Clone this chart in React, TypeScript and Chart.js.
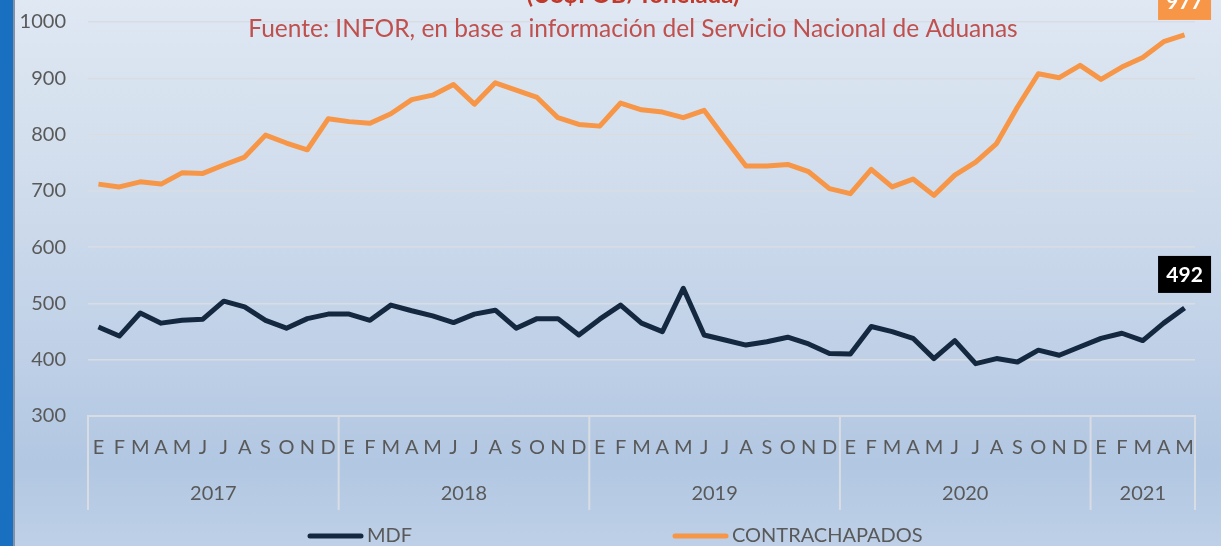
import { useEffect, useRef } from "react";
import { Chart, registerables } from "chart.js";
Chart.register(...registerables);

const MONTH_LETTERS = ["E", "F", "M", "A", "M", "J", "J", "A", "S", "O", "N", "D"];
const YEARS = ["2017", "2018", "2019", "2020", "2021"];
const MONTHS_PER_YEAR = [12, 12, 12, 12, 5];
const CATEGORIES: string[] = [];
MONTHS_PER_YEAR.forEach((n) => {
  for (let i = 0; i < n; i++) CATEGORIES.push(MONTH_LETTERS[i]);
});

const MDF = [
  458, 442, 483, 465, 470, 472, 504, 494, 470, 456, 473, 481,
  481, 470, 497, 487, 478, 466, 481, 488, 456, 473, 473, 444,
  472, 497, 465, 450, 527, 444, 435, 426, 432, 440, 428, 411,
  410, 459, 450, 438, 402, 434, 393, 402, 396, 417, 408, 423,
  438, 447, 434, 465, 492,
];
const CONTRACHAPADOS = [
  712, 707, 716, 712, 732, 731, 746, 760, 799, 785, 773, 828,
  823, 820, 837, 862, 870, 889, 854, 892, 879, 866, 830, 818,
  815, 856, 844, 840, 830, 843, 793, 744, 744, 747, 734, 704,
  695, 738, 707, 721, 692, 728, 751, 784, 849, 908, 901, 923,
  898, 920, 937, 965, 977,
];
const Y_MIN = 300;
const Y_MAX = 1000;
const Y_STEP = 100;

const TITLE = "(US$FOB/Tonelada)";
const SUBTITLE = "Fuente: INFOR, en base a información del Servicio Nacional de Aduanas";

const FONT = "Lato, 'Open Sans', sans-serif";
const LABEL_BG = ["#000000", "#f79646"];

const decorPlugin = {
  id: "decor",
  afterDatasetsDraw(chart: any) {
    const ctx = chart.ctx;
    ctx.save();
    chart.data.datasets.forEach((ds: any, i: number) => {
      const meta = chart.getDatasetMeta(i);
      const last = meta.data.length - 1;
      const pt = meta.data[last];
      const v = ds.data[last];
      const w = 53, h = 37;
      const cx = pt.x;
      const cy = pt.y - 33.5;
      ctx.fillStyle = LABEL_BG[i];
      ctx.fillRect(cx - w / 2, cy - h / 2, w, h);
      ctx.fillStyle = "#ffffff";
      ctx.font = `bold 21px ${FONT}`;
      ctx.textAlign = "center";
      ctx.textBaseline = "middle";
      ctx.fillText(String(v), cx, cy + 1);
    });
    ctx.restore();
  },
  afterDraw(chart: any) {
    const ctx = chart.ctx;
    const xs = chart.scales.x;
    const area = chart.chartArea;
    ctx.save();
    const step = xs.getPixelForValue(1) - xs.getPixelForValue(0);
    ctx.strokeStyle = "#d9dde3";
    ctx.lineWidth = 2;
    let idx = 0;
    const bounds: number[] = [xs.getPixelForValue(0) - step / 2];
    MONTHS_PER_YEAR.forEach((n) => {
      idx += n;
      bounds.push(xs.getPixelForValue(idx - 1) + step / 2);
    });
    bounds.forEach((bx) => {
      ctx.beginPath();
      ctx.moveTo(bx, area.bottom);
      ctx.lineTo(bx, area.bottom + 94);
      ctx.stroke();
    });
    ctx.fillStyle = "#595959";
    ctx.font = `20px ${FONT}`;
    ctx.textAlign = "center";
    ctx.textBaseline = "middle";
    YEARS.forEach((y, i) => {
      ctx.fillText(y, (bounds[i] + bounds[i + 1]) / 2, area.bottom + 78);
    });
    const cxT = 633;
    ctx.fillStyle = "#c0392b";
    ctx.font = `bold 24px ${FONT}`;
    ctx.textBaseline = "alphabetic";
    ctx.fillText(TITLE, cxT, 3);
    ctx.fillStyle = "#c0504d";
    ctx.font = `24.5px ${FONT}`;
    ctx.fillText(SUBTITLE, cxT, 37);
    const legendX = [308, 673];
    const ly = 536;
    chart.data.datasets.forEach((ds: any, i: number) => {
      const lx = legendX[i];
      ctx.strokeStyle = ds.borderColor;
      ctx.lineWidth = 5;
      ctx.lineCap = "round";
      ctx.beginPath();
      ctx.moveTo(lx + 2, ly);
      ctx.lineTo(lx + 53, ly);
      ctx.stroke();
      ctx.fillStyle = "#595959";
      ctx.font = `20px ${FONT}`;
      ctx.textAlign = "left";
      ctx.textBaseline = "middle";
      ctx.fillText(ds.label, lx + 59, ly);
    });
    ctx.restore();
  },
};

export default function App() {
  const ref = useRef<HTMLCanvasElement | null>(null);
  useEffect(() => {
    if (!ref.current) return;
    const chart = new Chart(ref.current, {
      type: "line",
      data: {
        labels: CATEGORIES,
        datasets: [
          {
            label: "MDF",
            data: MDF,
            borderColor: "#142840",
            borderWidth: 5,
            pointRadius: 0,
            tension: 0,
            borderJoinStyle: "round",
          },
          {
            label: "CONTRACHAPADOS",
            data: CONTRACHAPADOS,
            borderColor: "#f79646",
            borderWidth: 5,
            pointRadius: 0,
            tension: 0,
            borderJoinStyle: "round",
          },
        ],
      },
      options: {
        animation: false,
        responsive: false,
        devicePixelRatio: 1,
        layout: { padding: { left: 0, top: 22, right: 26, bottom: 0 } },
        plugins: { legend: { display: false }, title: { display: false }, tooltip: { enabled: false } },
        scales: {
          x: {
            type: "category",
            offset: true,
            grid: { display: false },
            border: { display: true, color: "#d9dde3", width: 2 },
            ticks: {
              autoSkip: false,
              maxRotation: 0,
              minRotation: 0,
              color: "#595959",
              font: { family: FONT, size: 20 },
              padding: 12,
            },
            afterFit: (s: any) => {
              s.height = 130;
              s.paddingLeft = 0;
              s.paddingRight = 0;
            },
          },
          y: {
            min: Y_MIN,
            max: Y_MAX,
            ticks: {
              stepSize: Y_STEP,
              color: "#595959",
              font: { family: FONT, size: 20 },
              padding: 22,
              callback: (v: any) => String(v),
            },
            grid: { color: "#d9dde3", lineWidth: 1.5, drawTicks: false },
            border: { display: false },
            afterFit: (s: any) => {
              s.width = 88;
              s.paddingTop = 0;
              s.paddingBottom = 0;
            },
          },
        },
      },
      plugins: [decorPlugin],
    });
    return () => chart.destroy();
  }, []);

  return (
    <div
      style={{
        position: "fixed",
        left: 0,
        top: 0,
        width: 1221,
        height: 546,
        overflow: "hidden",
        background: "linear-gradient(180deg, #dfe8f3 0%, #d2deed 30%, #bfd0e7 65%, #b2c7e2 85%, #bdd0e7 100%)",
      }}
    >
      <div
        style={{
          position: "absolute",
          left: 0,
          top: 0,
          width: 13,
          height: 546,
          background: "#1a70c0",
          borderRight: "2px solid #8291a5",
        }}
      />
      <canvas ref={ref} width={1221} height={546} style={{ position: "absolute", left: 0, top: 0 }} />
    </div>
  );
}
